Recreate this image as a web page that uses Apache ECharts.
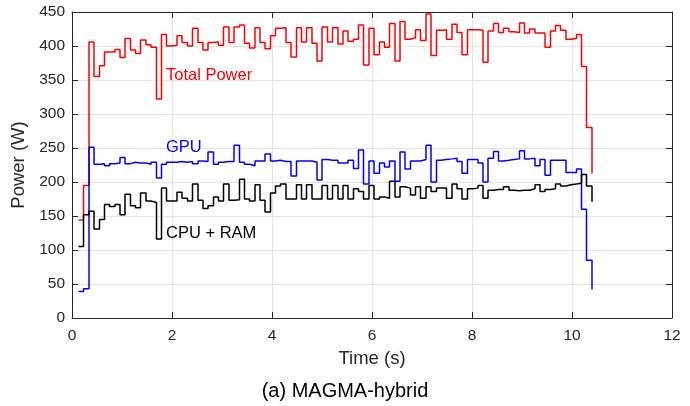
<!DOCTYPE html>
<html><head><meta charset="utf-8">
<script src="https://cdn.jsdelivr.net/npm/echarts@6/dist/echarts.min.js"></script>
<style>html,body{margin:0;padding:0;background:#fff}#c{width:690px;height:406px}</style>
</head><body><div id="c"></div>
<script>
// Sample start times (s) of each stair step
const sampleTimes = [
  0.13,0.23,0.34,0.44,0.55,0.65,0.75,0.86,0.96,1.06,
  1.17,1.27,1.37,1.48,1.58,1.69,1.79,1.89,2.00,2.10,
  2.20,2.31,2.41,2.52,2.62,2.72,2.83,2.93,3.03,3.14,
  3.24,3.35,3.45,3.55,3.66,3.76,3.86,3.97,4.07,4.17,
  4.28,4.38,4.49,4.59,4.69,4.80,4.90,5.00,5.11,5.21,
  5.32,5.42,5.52,5.63,5.73,5.83,5.94,6.04,6.15,6.25,
  6.35,6.46,6.56,6.66,6.77,6.87,6.97,7.08,7.18,7.29,
  7.39,7.49,7.60,7.70,7.80,7.91,8.01,8.12,8.22,8.32,
  8.43,8.53,8.63,8.74,8.84,8.95,9.05,9.15,9.26,9.36,
  9.46,9.57,9.67,9.77,9.88,9.98,10.09,10.19,10.29,10.40
];
const totalPower = [
  144,195,406,355,371,391,391,395,383,411,
  394,389,409,402,398,322,417,400,401,415,
  405,400,426,405,394,405,406,401,428,405,
  428,431,404,397,427,405,396,415,426,427,
  405,384,427,406,427,404,378,428,406,427,
  403,422,407,410,431,372,426,387,406,398,
  433,378,436,410,412,424,408,447,386,423,
  424,410,432,420,387,424,424,423,376,422,
  433,420,426,421,420,434,419,425,419,419,
  398,422,430,423,410,411,417,370,280,213
];
const gpuPower = [
  39,43,251,226,227,224,227,228,236,227,
  229,228,228,226,229,206,226,229,229,230,
  229,230,227,231,230,244,226,229,230,230,
  254,229,226,224,231,231,241,231,232,230,
  230,209,231,231,231,229,203,233,232,232,
  228,228,232,220,247,197,231,213,228,222,
  231,201,244,219,231,231,233,254,200,232,
  233,234,235,230,213,233,233,228,200,235,
  245,231,232,233,234,246,234,235,224,233,
  210,232,232,232,214,214,219,160,85,42
];
const cpuRamPower = [
  105,152,157,131,145,167,164,167,152,182,
  165,162,184,172,170,116,191,172,172,185,
  176,172,197,173,161,165,178,172,197,173,
  174,204,175,172,196,173,156,184,194,197,
  175,175,196,175,196,175,175,195,175,195,
  175,195,175,190,186,175,195,175,178,176,
  201,178,193,191,181,193,176,193,186,191,
  191,176,197,190,175,190,191,195,176,188,
  189,189,193,188,187,188,188,190,196,186,
  189,190,197,194,196,197,198,211,194,171
];
const seriesNames = ['Total Power', 'GPU', 'CPU + RAM'];
const seriesColors = ['#ff0000', '#0000ff', '#000000'];
// label anchor in data coordinates [time, power]
const labelAnchors = [[1.88, 356], [1.88, 251], [1.88, 125]];

const FONT = "'Liberation Sans', Arial, Helvetica, sans-serif";
const AX = '#262626';
const chart = echarts.init(document.getElementById('c'), null, {renderer: 'canvas'});

function zip(xs, ys) { return xs.map((x, i) => [x, ys[i]]); }
const allSeries = [totalPower, gpuPower, cpuRamPower];

const baseAxis = {
  axisLine: {show: true, onZero: false, lineStyle: {color: AX, width: 1}},
  axisTick: {show: true, inside: true, length: 6, lineStyle: {color: AX, width: 1}},
  axisLabel: {color: AX, fontSize: 15.5, fontFamily: FONT},
  splitLine: {show: false}
};

chart.setOption({
  animation: false,
  backgroundColor: '#fff',
  title: {text: '(a) MAGMA-hybrid', left: 'center', top: 376,
    textStyle: {fontSize: 20, fontWeight: 'normal', color: '#000', fontFamily: FONT}},
  grid: {left: 72, right: 18, top: 12, bottom: 88},
  xAxis: [
    Object.assign({}, baseAxis, {type: 'value', min: 0, max: 12, interval: 2, position: 'bottom',
      name: 'Time (s)', nameLocation: 'middle', nameGap: 31,
      nameTextStyle: {fontSize: 18.5, color: AX, fontFamily: FONT},
      axisLabel: {color: AX, fontSize: 15.5, fontFamily: FONT, margin: 10},
      splitLine: {show: true, lineStyle: {color: '#e3e3e3', width: 1}}}),
    Object.assign({}, baseAxis, {type: 'value', min: 0, max: 12, interval: 2, position: 'top',
      axisLabel: {show: false}})
  ],
  yAxis: [
    Object.assign({}, baseAxis, {type: 'value', min: 0, max: 450, interval: 50, position: 'left',
      name: 'Power (W)', nameLocation: 'middle', nameGap: 41,
      nameTextStyle: {fontSize: 18.5, color: AX, fontFamily: FONT},
      axisLabel: {color: AX, fontSize: 15.5, fontFamily: FONT, margin: 7},
      splitLine: {show: true, lineStyle: {color: '#e3e3e3', width: 1}}}),
    Object.assign({}, baseAxis, {type: 'value', min: 0, max: 450, interval: 50, position: 'right',
      axisLabel: {show: false}})
  ],
  series: allSeries.map((ys, i) => ({
    name: seriesNames[i], type: 'line', step: 'end', xAxisIndex: 0, yAxisIndex: 0,
    data: zip(sampleTimes, ys), showSymbol: false, symbol: 'none',
    lineStyle: {color: seriesColors[i], width: 1.5}, z: 3 + i
  }))
});

const graphics = labelAnchors.map((a, i) => {
  const p = chart.convertToPixel({gridIndex: 0}, a);
  return {type: 'text', x: p[0], y: p[1], z: 10,
    style: {text: seriesNames[i], fill: seriesColors[i], font: '16.5px ' + FONT,
      textAlign: 'left', textVerticalAlign: 'middle'}};
});
chart.setOption({graphic: graphics});
</script></body></html>
